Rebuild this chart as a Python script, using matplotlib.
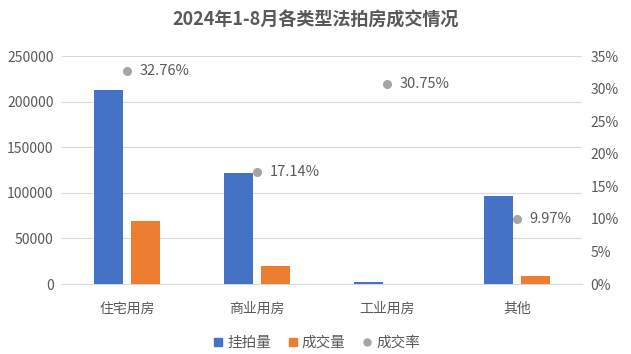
import numpy as np
import matplotlib.pyplot as plt
from matplotlib.ticker import FuncFormatter
from matplotlib.lines import Line2D

plt.rcParams['font.family'] = ['Noto Sans CJK SC', 'DejaVu Sans']

categories = ['住宅用房', '商业用房', '工业用房', '其他']
listed = [212800, 121900, 2500, 96700]
sold = [69300, 20000, 400, 9100]
rate = [32.76, 17.14, 30.75, 9.97]
rate_labels = ['32.76%', '17.14%', '30.75%', '9.97%']

blue = '#4472C4'
orange = '#ED7D31'
grey = '#A5A5A5'
text_c = '#595959'

fig = plt.figure(figsize=(6.31, 3.54), dpi=100)
ax = fig.add_axes([62 / 631, 1 - 284 / 354, 520 / 631, 228 / 354])
x = np.arange(len(categories))
w = 0.225
ax.bar(x - 0.145, listed, w, color=blue, zorder=3)
ax.bar(x + 0.145, sold, w, color=orange, zorder=3)
ax.set_xlim(-0.5, 3.5)
ax.set_ylim(0, 250000)
ax.set_yticks(range(0, 250001, 50000))
ax.grid(axis='y', color='#D9D9D9', linewidth=0.8, zorder=0)
ax.set_xticks(x)
ax.set_xticklabels(categories, fontsize=10.5)
for s in ['top', 'left', 'right']:
    ax.spines[s].set_visible(False)
ax.spines['bottom'].set_color('#D9D9D9')
ax.tick_params(length=0, labelsize=10, colors=text_c)
ax.tick_params(axis='x', pad=13)
ax.tick_params(axis='y', pad=6)

ax2 = ax.twinx()
ax2.scatter(x, rate, s=30, color=grey, zorder=4)
for xi, r, lab in zip(x, rate, rate_labels):
    ax2.annotate(lab, (xi, r), xytext=(9, 0), textcoords='offset points',
                 va='center', ha='left', fontsize=10.5, color=text_c)
ax2.set_ylim(0, 35)
ax2.set_yticks(range(0, 36, 5))
ax2.yaxis.set_major_formatter(FuncFormatter(lambda v, p: f'{int(v)}%'))
for s in ['top', 'left', 'right', 'bottom']:
    ax2.spines[s].set_visible(False)
ax2.tick_params(length=0, labelsize=10, colors=text_c, pad=6)

fig.text(0.5, 1 - 20 / 354, '2024年1-8月各类型法拍房成交情况', ha='center', va='center',
         fontsize=13, fontweight='bold', color=text_c)

handles = [
    Line2D([], [], marker='s', linestyle='', color=blue, markersize=6),
    Line2D([], [], marker='s', linestyle='', color=orange, markersize=6),
    Line2D([], [], marker='o', linestyle='', color=grey, markersize=5),
]
leg = fig.legend(handles, ['挂拍量', '成交量', '成交率'], loc='center',
                 bbox_to_anchor=(0.5, 1 - 343 / 354), ncol=3, frameon=False,
                 fontsize=10.5, handletextpad=0.1, columnspacing=1.0, handlelength=1.0)
for t in leg.get_texts():
    t.set_color(text_c)

fig.savefig('out.png', dpi=100)
